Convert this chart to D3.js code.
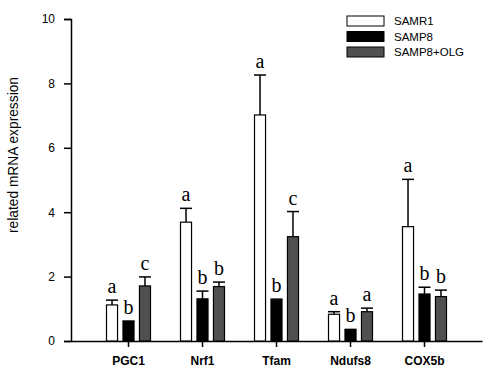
<!DOCTYPE html>
<html>
<head>
<meta charset="utf-8">
<script src="https://cdn.jsdelivr.net/npm/d3@7"></script>
<style>
body { margin: 0; background: #fff; }
</style>
</head>
<body>
<div class="chart"></div>
<script>
const width = 490;
const height = 376;

// data
const genes = ['PGC1', 'Nrf1', 'Tfam', 'Ndufs8', 'COX5b'];
const groups = ['SAMR1', 'SAMP8', 'SAMP8+OLG'];
const samr1 = [1.12, 3.69, 7.02, 0.83, 3.55];
const samr1Err = [0.15, 0.43, 1.24, 0.08, 1.47];
const samp8 = [0.60, 1.31, 1.27, 0.34, 1.46];
const samp8Err = [0.02, 0.24, 0.03, 0.02, 0.21];
const olg = [1.71, 1.69, 3.24, 0.91, 1.38];
const olgErr = [0.28, 0.14, 0.78, 0.11, 0.20];
const letters = [['a', 'b', 'c'], ['a', 'b', 'b'], ['a', 'b', 'c'], ['a', 'b', 'a'], ['a', 'b', 'b']];
const yTicks = [0, 2, 4, 6, 8, 10];

const colors = ['#ffffff', '#000000', '#505050'];
const series = [samr1, samp8, olg];
const errs = [samr1Err, samp8Err, olgErr];
const sans = 'Arial, "Liberation Sans", sans-serif';

const svg = d3.select('.chart').append('svg')
    .attr('width', width)
    .attr('height', height);

const x0 = 71, x1 = 482, yBottom = 341, yTop = 19;

const xScale = d3.scaleBand()
    .domain(genes)
    .range([x0, x1])
    .paddingInner(0)
    .paddingOuter(0.277);

const xInner = d3.scaleBand()
    .domain(groups)
    .range([-22, 22])
    .paddingInner(0.33);

const yScale = d3.scaleLinear()
    .domain([0, 10])
    .range([yBottom, yTop]);

/* y axis */
const yAxis = svg.append('g')
    .attr('transform', `translate(${x0},0)`)
    .call(d3.axisLeft(yScale).tickValues(yTicks).tickSize(7).tickPadding(9));
yAxis.select('.domain').attr('stroke', '#000').attr('stroke-width', 1.5);
yAxis.selectAll('.tick line').attr('stroke-width', 1.5);
yAxis.selectAll('.tick text').style('font-size', '12px').style('font-family', sans);

/* x axis */
const xAxis = svg.append('g')
    .attr('transform', `translate(0,${yBottom})`)
    .call(d3.axisBottom(xScale).tickSize(6).tickPadding(9).tickSizeOuter(0));
xAxis.select('.domain').attr('stroke-width', 1.5);
xAxis.selectAll('.tick line').attr('stroke-width', 1.5);
xAxis.selectAll('.tick text')
    .style('font-size', '12px')
    .style('font-weight', 'bold')
    .style('font-family', sans);

svg.append('text')
    .attr('transform', `translate(18,155) rotate(-90)`)
    .attr('text-anchor', 'middle')
    .style('font-size', '14px')
    .style('font-family', sans)
    .attr('textLength', 156)
    .attr('lengthAdjust', 'spacingAndGlyphs')
    .text('related mRNA expression');

/* bars */
series.forEach((vals, s) => {
    const g = svg.append('g');
    const bx = (i) => xScale(genes[i]) + xScale.bandwidth() / 2 + xInner(groups[s]);
    const bw = xInner.bandwidth();
    vals.forEach((v, i) => {
        const top = yScale(v + errs[s][i]);
        g.append('line')
            .attr('x1', bx(i) + bw / 2).attr('x2', bx(i) + bw / 2)
            .attr('y1', yScale(v)).attr('y2', top)
            .attr('stroke', '#000').attr('stroke-width', 1.5);
        g.append('line')
            .attr('x1', bx(i) - 0.5).attr('x2', bx(i) + bw + 0.5)
            .attr('y1', top).attr('y2', top)
            .attr('stroke', '#000').attr('stroke-width', 1.5);
        g.append('rect')
            .attr('x', bx(i))
            .attr('y', yScale(v))
            .attr('width', bw)
            .attr('height', yBottom - yScale(v))
            .attr('fill', colors[s])
            .attr('stroke', '#000')
            .attr('stroke-width', 1.2);
        g.append('text')
            .attr('x', bx(i) + bw / 2)
            .attr('y', top - 7)
            .attr('text-anchor', 'middle')
            .style('font-family', '"Liberation Serif", "DejaVu Serif", serif')
            .style('font-size', '20px')
            .text(letters[i][s]);
    });
});

/* legend */
const legend = svg.append('g').attr('transform', 'translate(347,16)');
groups.forEach((name, s) => {
    legend.append('rect')
        .attr('x', 0).attr('y', s * 15.5)
        .attr('width', 37).attr('height', 10)
        .attr('fill', colors[s])
        .attr('stroke', '#000').attr('stroke-width', 1);
    legend.append('text')
        .attr('x', 47).attr('y', s * 15.5 + 9)
        .style('font-size', '11.5px')
        .style('font-family', sans)
        .text(name);
});
</script>
</body>
</html>
